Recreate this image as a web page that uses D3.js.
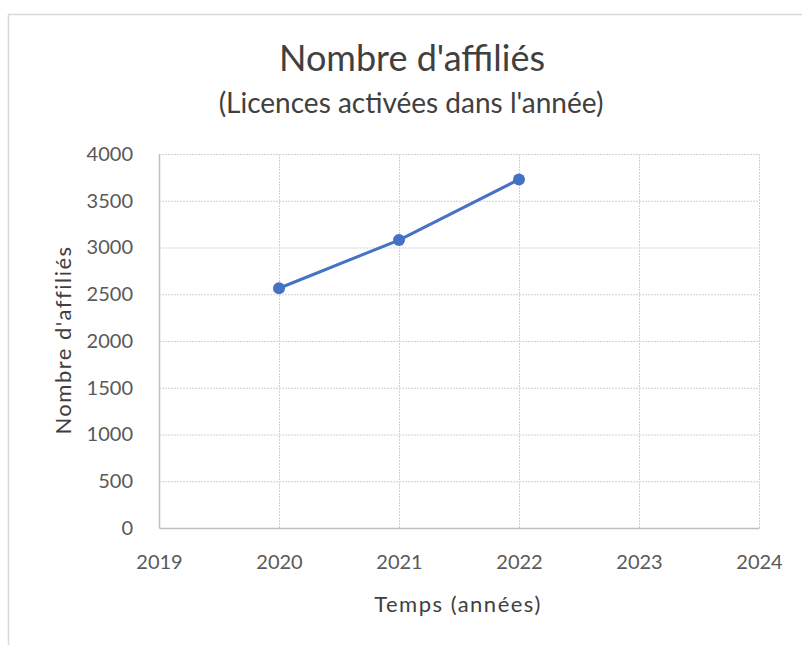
<!DOCTYPE html>
<html>
<head>
<meta charset="utf-8">
<script src="https://cdn.jsdelivr.net/npm/d3@7"></script>
<style>
  body { margin: 0; background: #fff; }
  svg { display: block; }
  .tick text { font-family: Lato, "Open Sans", sans-serif; font-size: 20px; fill: #595959; }
</style>
</head>
<body>
<div id="chart"></div>
<script>
// data
const years = [2020, 2021, 2022];
const affilies = [2564, 3080, 3728];
const xTicks = [2019, 2020, 2021, 2022, 2023, 2024];
const yTicks = [0, 500, 1000, 1500, 2000, 2500, 3000, 3500, 4000];

const W = 802, H = 645;
const margin = {top: 154, right: 43, bottom: 117, left: 159};
const width = W - margin.left - margin.right,
      height = H - margin.top - margin.bottom;

const svg = d3.select("#chart").append("svg")
    .attr("width", W)
    .attr("height", H);

// chart border (cropped on right/bottom)
svg.append("path")
    .attr("d", "M8.5,645 L8.5,14.5 L802,14.5")
    .attr("fill", "none")
    .attr("stroke", "#d9d9d9")
    .attr("stroke-width", 1.5);

const g = svg.append("g")
    .attr("transform", `translate(${margin.left},${margin.top})`);

const x = d3.scaleLinear().domain([2019, 2024]).range([0, width]);
const y = d3.scaleLinear().domain([0, 4000]).range([height, 0]);

// grid
g.append("g")
    .selectAll("line")
    .data(yTicks.slice(1))
    .enter().append("line")
    .attr("x1", 0).attr("x2", width)
    .attr("y1", d => y(d) + 0.5).attr("y2", d => y(d) + 0.5)
    .attr("stroke", "#d0d0d0")
    .attr("stroke-dasharray", "2,1");

g.append("g")
    .selectAll("line")
    .data(xTicks.slice(1))
    .enter().append("line")
    .attr("x1", d => x(d) + 0.5).attr("x2", d => x(d) + 0.5)
    .attr("y1", 0).attr("y2", height)
    .attr("stroke", "#d0d0d0")
    .attr("stroke-dasharray", "2,1");

// y axis
const yAxis = g.append("g")
    .call(d3.axisLeft(y).tickValues(yTicks).tickFormat(d3.format("d")).tickSize(0).tickPadding(26));
yAxis.select(".domain").attr("stroke", "#bfbfbf").attr("stroke-width", 1.5);

// x axis
const xAxis = g.append("g")
    .attr("transform", `translate(0,${height})`)
    .call(d3.axisBottom(x).tickValues(xTicks).tickFormat(d3.format("d")).tickSize(0).tickPadding(27));
xAxis.select(".domain").attr("stroke", "#bfbfbf").attr("stroke-width", 1.5);

// line
const pts = years.map((d, i) => ({year: d, v: affilies[i]}));
g.append("path")
    .datum(pts)
    .attr("fill", "none")
    .attr("stroke", "#4472C4")
    .attr("stroke-width", 3)
    .attr("d", d3.line().x(d => x(d.year)).y(d => y(d.v)));

g.selectAll(".dot")
    .data(pts)
    .enter().append("circle")
    .attr("class", "dot")
    .attr("cx", d => x(d.year))
    .attr("cy", d => y(d.v))
    .attr("r", 6)
    .attr("fill", "#4472C4");

// titles
svg.append("text")
    .attr("x", 412).attr("y", 71)
    .attr("text-anchor", "middle")
    .style("font-family", "Lato, 'Open Sans', sans-serif")
    .style("font-size", "36px")
    .style("fill", "#404040")
    .text("Nombre d'affiliés");

svg.append("text")
    .attr("x", 411).attr("y", 113)
    .attr("text-anchor", "middle")
    .style("font-family", "Lato, 'Open Sans', sans-serif")
    .style("font-size", "28px")
    .style("fill", "#404040")
    .text("(Licences activées dans l'année)");

svg.append("text")
    .attr("transform", "translate(71,340) rotate(-90)")
    .attr("text-anchor", "middle")
    .style("font-family", "Lato, 'Open Sans', sans-serif")
    .style("font-size", "22px")
    .style("letter-spacing", "1.5px")
    .style("fill", "#404040")
    .text("Nombre d'affiliés");

svg.append("text")
    .attr("x", 458).attr("y", 612)
    .attr("text-anchor", "middle")
    .style("font-family", "Lato, 'Open Sans', sans-serif")
    .style("font-size", "22px")
    .style("letter-spacing", "1.5px")
    .style("fill", "#404040")
    .text("Temps (années)");
</script>
</body>
</html>
